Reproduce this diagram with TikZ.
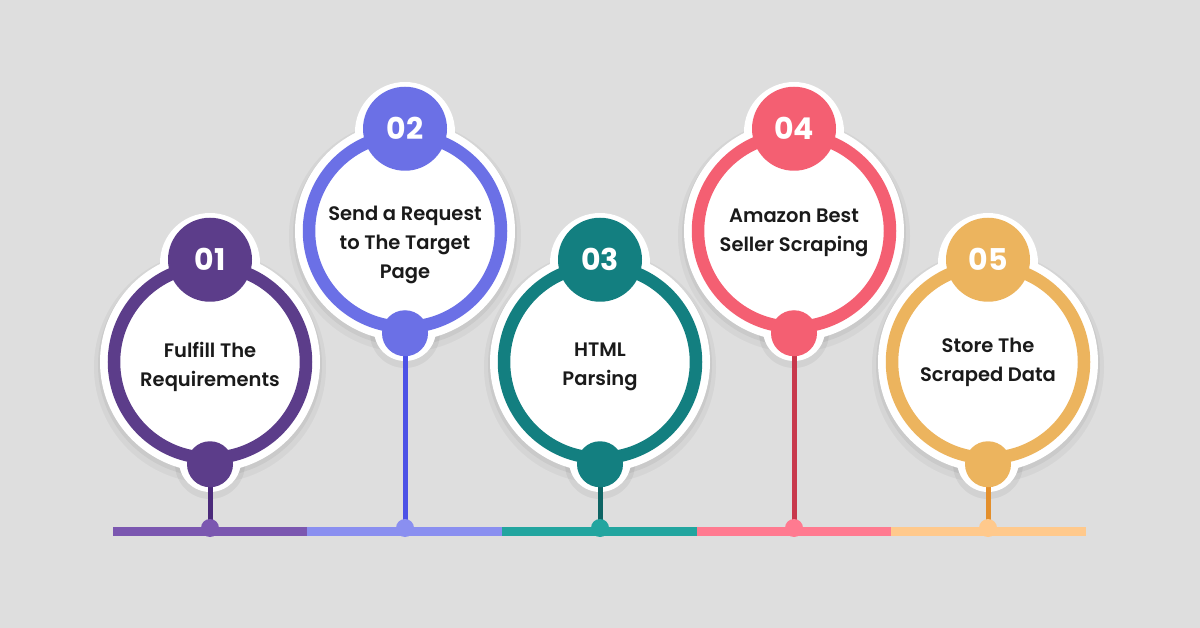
\documentclass[tikz,border=0pt]{standalone}
\usepackage{fontspec}
\usepackage{xcolor}
\setmainfont{Poppins}
\newfontfamily\stepfont{Poppins SemiBold}

\definecolor{bgcol}{HTML}{DEDEDE}
\definecolor{textcol}{HTML}{1A1A1A}
% rings
\definecolor{ring1}{HTML}{5C3D8A}
\definecolor{ring2}{HTML}{6B70E6}
\definecolor{ring3}{HTML}{137F80}
\definecolor{ring4}{HTML}{F45F72}
\definecolor{ring5}{HTML}{ECB45E}
% stems
\definecolor{stem1}{HTML}{4B2A7A}
\definecolor{stem2}{HTML}{4C52E6}
\definecolor{stem3}{HTML}{0E6464}
\definecolor{stem4}{HTML}{C8384C}
\definecolor{stem5}{HTML}{E38F2C}
% timeline bar
\definecolor{bar1}{HTML}{7B57B0}
\definecolor{bar2}{HTML}{8A8FF0}
\definecolor{bar3}{HTML}{22A59F}
\definecolor{bar4}{HTML}{FF7A90}
\definecolor{bar5}{HTML}{FFC98C}

\begin{document}
\begin{tikzpicture}[x=1pt, y=-1pt,
    every node/.style={font=\stepfont},
    halo/.style={fill=white},
    numdisc/.style={circle, inner sep=0pt, minimum size=84pt, text=white, font=\fontsize{30}{30}\selectfont\bfseries},
    footdisc/.style={circle, inner sep=0pt, minimum size=46pt},
    steptext/.style={align=center, text=textcol, font=\stepfont\fontsize{19.5}{29}\selectfont}]
    % Background
    \fill[bgcol] (0,0) rectangle (1200,628);
    \useasboundingbox (0,0) rectangle (1200,628);

    % Steps
    \foreach \i/\cx/\cy/\num/\dy/\txt in {
        1/210/362/01/5/{Fulfill The\\Requirements},
        2/405/231/02/14/{Send a Request\\to The Target\\Page},
        3/600/362/03/5/{HTML\\Parsing},
        4/794/231/04/2/{Amazon Best\\Seller Scraping},
        5/988/362/05/0/{Store The\\Scraped Data}}
    {
        % soft shadow
        \fill[black, opacity=0.04] (\cx,\cy+5) circle[radius=116pt];
        \fill[black, opacity=0.05] (\cx,\cy+3) circle[radius=112pt];
        \fill[black, opacity=0.05] (\cx,\cy+102) circle[radius=35pt];
        % white halo
        \fill[halo] (\cx,\cy) circle[radius=110pt];
        \fill[halo] (\cx,\cy-99) circle[radius=50pt];
        \fill[halo] (\cx,\cy+99) circle[radius=31pt];
        % stem down to the bar
        \coordinate (dot\i) at (\cx,528);
        \draw[stem\i, line width=5pt] (\cx,\cy+99) -- (dot\i);
        % ring, number and foot
        \node[circle, draw=ring\i, line width=12.5pt, fill=white, inner sep=0pt, minimum size=192pt] (ring\i) at (\cx,\cy) {};
        \node[numdisc, fill=ring\i] (num\i) at (ring\i.north) {\num};
        \node[footdisc, fill=ring\i] (foot\i) at (ring\i.south) {};
        \node[steptext] (txt\i) at (\cx,\cy+\dy) {\txt};
    }

    % Timeline bar
    \foreach \i/\xa/\xb in {1/113/307, 2/307/502, 3/502/697, 4/697/891, 5/891/1086}
    {
        \fill[bar\i] (\xa,527) rectangle (\xb,536);
        \fill[bar\i] (dot\i) circle[radius=9pt];
    }
\end{tikzpicture}
\end{document}
